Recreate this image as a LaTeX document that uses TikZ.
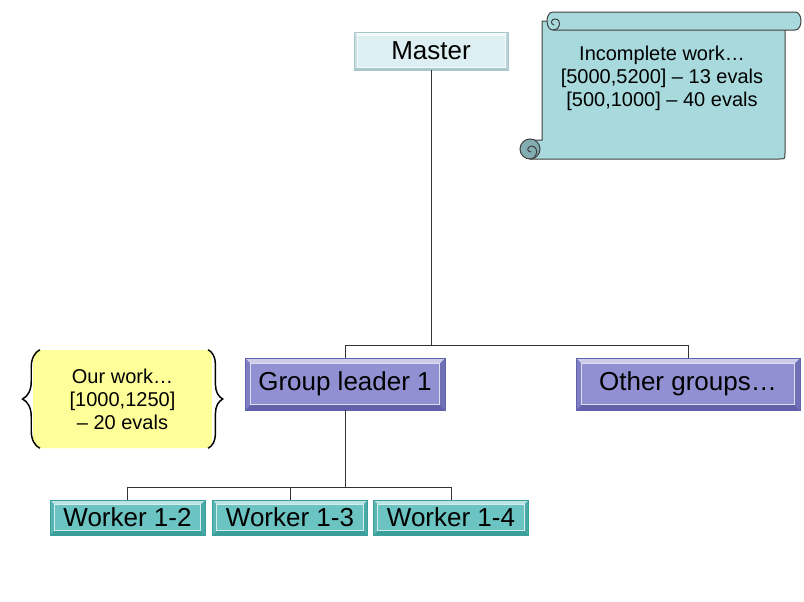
\documentclass[tikz,border=0pt]{standalone}
\usepackage{fontspec}
\setmainfont{Liberation Sans}
\usetikzlibrary{decorations.pathreplacing}
\definecolor{masterfill}{HTML}{DDEFF2}
\definecolor{masteredge}{HTML}{A9C6CA}
\definecolor{groupfill}{HTML}{9090D2}
\definecolor{groupedge}{HTML}{6262AC}
\definecolor{workerfill}{HTML}{6CC4C2}
\definecolor{workeredge}{HTML}{3A9E9B}
\definecolor{scrollfill}{HTML}{A8DADD}
\definecolor{scrolldark}{HTML}{82AEB2}
\definecolor{notefill}{HTML}{FFFF99}

\begin{document}
\begin{tikzpicture}[x=0.75pt, y=-0.75pt,
  every node/.style={font=\fontsize{19.5}{22}\selectfont, inner sep=0pt},
  bevel/.style n args={3}{fill=#1, draw=#2, line width=0.5pt,
    path picture={
      \fill[#2] (path picture bounding box.south west) -- (path picture bounding box.south east)
        -- ([shift={(-#3,#3)}]path picture bounding box.south east) -- ([shift={(#3,#3)}]path picture bounding box.south west) -- cycle;
      \fill[#2!70!#1] (path picture bounding box.north east) -- (path picture bounding box.south east)
        -- ([shift={(-#3,#3)}]path picture bounding box.south east) -- ([shift={(-#3,-#3)}]path picture bounding box.north east) -- cycle;
      \fill[white!55!#1] (path picture bounding box.north west) -- (path picture bounding box.north east)
        -- ([shift={(-#3,-#3)}]path picture bounding box.north east) -- ([shift={(#3,-#3)}]path picture bounding box.north west) -- cycle;
      \fill[#2!40!#1] (path picture bounding box.north west) -- (path picture bounding box.south west)
        -- ([shift={(#3,#3)}]path picture bounding box.south west) -- ([shift={(#3,-#3)}]path picture bounding box.north west) -- cycle;
      \draw[white!70!#1, line width=0.6pt] ([shift={(#3,-#3)}]path picture bounding box.north west)
        rectangle ([shift={(-#3,#3)}]path picture bounding box.south east);
    }},
  master/.style={bevel={masterfill}{masteredge}{2.2pt}, minimum width=115.5pt, minimum height=28.5pt},
  group/.style={bevel={groupfill}{groupedge}{4pt}, minimum height=39pt},
  worker/.style={bevel={workerfill}{workeredge}{3pt}, minimum width=116pt, minimum height=26pt},
  note/.style={font=\fontsize{15}{17.25}\selectfont, align=center},
  scrollline/.style={draw=black!75, line width=0.75pt},
  brace/.style={line width=1.1pt, decorate, decoration={brace, amplitude=#1}},
  link/.style={draw=black!80, line width=0.75pt}
]
\useasboundingbox (0,0) rectangle (804,601);

% Scroll
\filldraw[scrollline, fill=scrollfill] (542,21) -- (785,21) -- (785,153) .. controls (785,159) .. (779,159)
  -- (530,159) -- (530,140) -- (542,140) -- cycle;
\filldraw[scrollline, fill=scrollfill] (553,12) -- (795,12) .. controls (803,12) and (803,30) .. (795,30)
  -- (553,30) .. controls (545,30) and (545,12) .. (553,12) -- cycle;
\draw[scrollline] (553,30) .. controls (561,30) and (562,19) .. (555,19) .. controls (551,19) and (550,24) .. (554,25);
\filldraw[scrollline, fill=scrolldark] (530,149) circle[radius=7.5pt];
\draw[scrollline] (530,159) .. controls (538,159) and (539,147) .. (532,146) .. controls (527,146) and (526,152) .. (531,152);
\node[note] (incomplete) at (662,78) {Incomplete work…\\{}[5000,5200] – 13 evals\\{}[500,1000] – 40 evals};

% Our work note
\node[note, fill=notefill, rounded corners=5pt, minimum width=134pt, minimum height=73.5pt]
  (ourwork) at (122.5,399) {Our work…\\{}[1000,1250]\\– 20 evals};
\draw[brace=13pt] ([xshift=5.25pt]ourwork.south west) -- ([xshift=5.25pt]ourwork.north west);
\draw[brace=11pt] ([xshift=-3pt]ourwork.north east) -- ([xshift=-3pt]ourwork.south east);

% Boxes
\node[master] (master) at (431,51) {Master};
\node[group, minimum width=150pt] (leader) at (345,384) {Group leader 1};
\node[group, minimum width=168pt] (others) at (688,384) {Other groups…};
\node[worker] (w2) at (127.5,517.5) {Worker 1-2};
\node[worker] (w3) at (290,517.5) {Worker 1-3};
\node[worker] (w4) at (451,517.5) {Worker 1-4};

% Links
\coordinate (topbus) at (master.south |- 0,345);
\coordinate (lowbus) at (leader.south |- 0,487);
\draw[link] (master) -- (topbus);
\draw[link] (topbus) -| (leader.north);
\draw[link] (topbus) -| (others.north);
\draw[link] (leader) -- (lowbus);
\draw[link] (lowbus) -| (w2.north);
\draw[link] (lowbus) -| (w3.north);
\draw[link] (lowbus) -| (w4.north);

\end{tikzpicture}
\end{document}
